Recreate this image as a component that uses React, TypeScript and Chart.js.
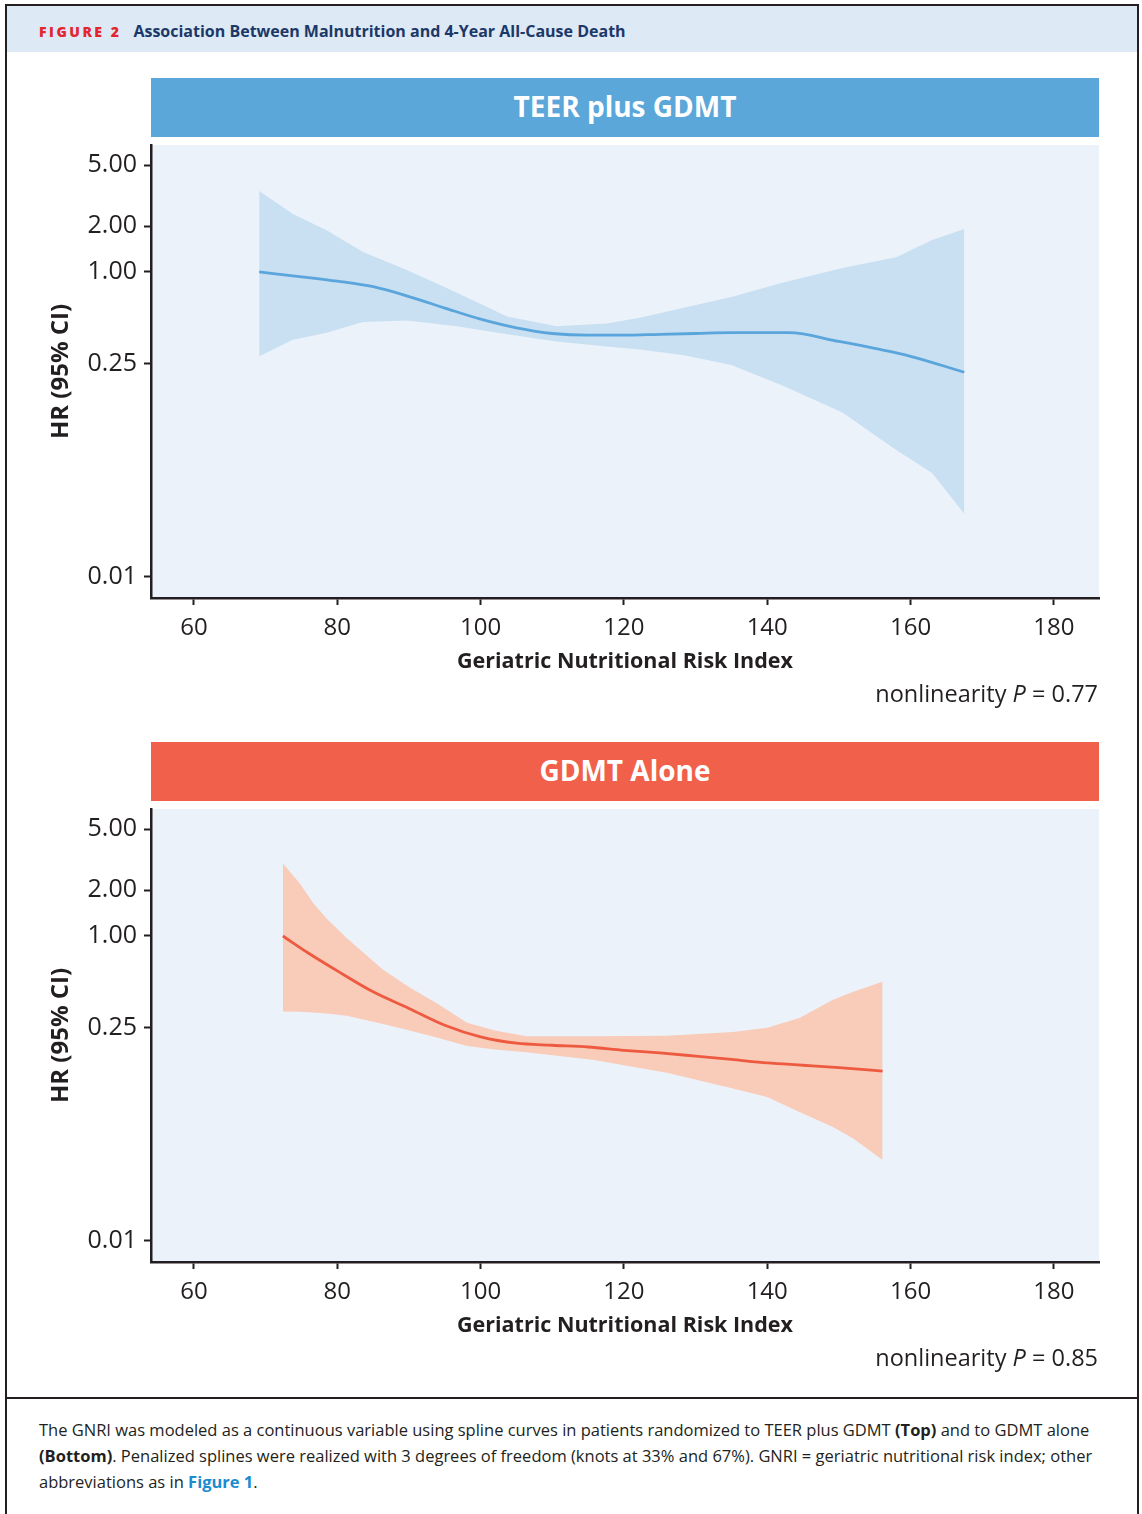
import React, { useEffect, useRef } from "react";
import { Chart, registerables } from "chart.js";
Chart.register(...registerables);

// ---------- data ----------
const xTicks = [60, 80, 100, 120, 140, 160, 180];
const yTicks = [0.01, 0.25, 1, 2, 5];

// TEER plus GDMT
const teerCiX = [69.1, 73.8, 78.5, 83.6, 89.7, 96.7, 103.7, 110.6, 117.6, 122.2, 128.2, 135, 142.1, 150.5, 158, 163, 167.5];
const teerUpper = [3.4, 2.4, 1.88, 1.35, 1.03, 0.73, 0.51, 0.44, 0.46, 0.5, 0.58, 0.685, 0.85, 1.06, 1.25, 1.62, 1.91];
const teerLower = [0.28, 0.36, 0.4, 0.47, 0.48, 0.44, 0.39, 0.35, 0.325, 0.31, 0.285, 0.245, 0.18, 0.12, 0.068, 0.048, 0.026];
const teerFitX = [69.1, 75, 80, 85, 90, 95, 100, 105, 110, 115, 120, 125, 130, 135, 140, 143, 150, 155, 160, 167.5];
const teerFit = [1.0, 0.93, 0.87, 0.8, 0.69, 0.58, 0.49, 0.43, 0.395, 0.385, 0.385, 0.39, 0.395, 0.4, 0.4, 0.4, 0.35, 0.315, 0.28, 0.22];

// GDMT alone
const gdmtCiX = [72.4, 74.8, 76.6, 78.5, 81.3, 86.4, 90.1, 94, 98.1, 102, 106.4, 115.6, 126, 135.2, 140, 144.5, 149.1, 152, 156.1];
const gdmtUpper = [3.0, 2.2, 1.65, 1.3, 0.97, 0.6, 0.46, 0.36, 0.27, 0.24, 0.22, 0.22, 0.222, 0.235, 0.25, 0.29, 0.38, 0.43, 0.5];
const gdmtLower = [0.32, 0.318, 0.315, 0.31, 0.3, 0.265, 0.24, 0.215, 0.19, 0.18, 0.173, 0.154, 0.127, 0.1, 0.088, 0.07, 0.056, 0.047, 0.034];
const gdmtFitX = [72.4, 76, 80, 85, 90, 95, 100, 105, 110, 115, 120, 125, 130, 135, 140, 145, 150, 156.1];
const gdmtFit = [1.0, 0.77, 0.59, 0.43, 0.335, 0.26, 0.218, 0.198, 0.192, 0.187, 0.178, 0.171, 0.163, 0.155, 0.147, 0.142, 0.137, 0.13];

const FONT = '"Open Sans", "Noto Sans", sans-serif';
const INK = "#231f20";

const pts = (xs: number[], ys: number[]) => xs.map((x, i) => ({ x, y: ys[i] }));

const bgPlugin = {
  id: "plotBg",
  beforeDraw(chart: any) {
    const { ctx, chartArea } = chart;
    if (!chartArea) return;
    ctx.save();
    ctx.fillStyle = "#ebf2fa";
    ctx.fillRect(chartArea.left, chartArea.top, chartArea.right - chartArea.left, chartArea.bottom - chartArea.top);
    ctx.restore();
  },
};

function Panel(props: {
  top: number;
  ciX: number[];
  upper: number[];
  lower: number[];
  fitX: number[];
  fit: number[];
  line: string;
  band: string;
}) {
  const ref = useRef<HTMLCanvasElement>(null);
  useEffect(() => {
    if (!ref.current) return;
    const chart = new Chart(ref.current, {
      type: "line",
      data: {
        datasets: [
          {
            data: pts(props.fitX, props.fit),
            borderColor: props.line,
            borderWidth: 2.8,
            pointRadius: 0,
            fill: false,
            tension: 0.4,
            cubicInterpolationMode: "monotone",
          },
          {
            data: pts(props.ciX, props.upper),
            borderWidth: 0,
            borderColor: "rgba(0,0,0,0)",
            backgroundColor: props.band,
            pointRadius: 0,
            fill: "+1",
            tension: 0,
          },
          {
            data: pts(props.ciX, props.lower),
            borderWidth: 0,
            borderColor: "rgba(0,0,0,0)",
            pointRadius: 0,
            fill: false,
            tension: 0,
          },
        ] as any,
      },
      options: {
        animation: false,
        responsive: false,
        devicePixelRatio: 1,
        layout: { padding: { left: 40, right: 43, top: 5, bottom: 0 } },
        plugins: { legend: { display: false }, tooltip: { enabled: false } },
        scales: {
          x: {
            type: "linear",
            min: 54,
            max: 186.3,
            afterBuildTicks: (s: any) => {
              s.ticks = xTicks.map((v) => ({ value: v }));
            },
            afterFit: (s: any) => {
              s.height = 122;
              s.paddingLeft = 0;
              s.paddingRight = 0;
            },
            border: { color: INK, width: 2.5 },
            grid: { drawOnChartArea: false, drawTicks: true, tickLength: 7, tickColor: INK, tickWidth: 2 },
            ticks: { color: INK, font: { family: FONT, size: 24 }, padding: 9, maxRotation: 0 },
            title: {
              display: true,
              text: "Geriatric Nutritional Risk Index",
              color: INK,
              font: { family: FONT, size: 21.5, weight: "bold" },
              padding: { top: 0, bottom: 45 },
            },
          },
          y: {
            type: "logarithmic",
            min: 0.00728,
            max: 6.8,
            afterBuildTicks: (s: any) => {
              s.ticks = yTicks.map((v) => ({ value: v }));
            },
            afterFit: (s: any) => {
              s.width = 111;
              s.paddingTop = 0;
              s.paddingBottom = 0;
            },
            border: { color: INK, width: 2.5 },
            grid: { drawOnChartArea: false, drawTicks: true, tickLength: 7, tickColor: INK, tickWidth: 2 },
            ticks: {
              color: INK,
              font: { family: FONT, size: 25 },
              padding: 7,
              callback: (v: any) => Number(v).toFixed(2),
            },
            title: {
              display: true,
              text: "HR (95% CI)",
              color: INK,
              font: { family: FONT, size: 24, weight: "bold" },
              padding: { top: 7, bottom: 0 },
            },
          },
        },
      } as any,
      plugins: [bgPlugin],
    });
    return () => chart.destroy();
  }, []);
  return (
    <canvas
      ref={ref}
      width={1142}
      height={580}
      style={{ position: "absolute", left: 0, top: props.top, width: 1142, height: 580 }}
    />
  );
}

function TitleBar(props: { top: number; color: string; text: string }) {
  return (
    <div
      style={{
        position: "absolute",
        left: 151,
        top: props.top,
        width: 948,
        height: 59,
        background: props.color,
        color: "#fff",
        fontFamily: FONT,
        fontWeight: 700,
        fontSize: 28,
        lineHeight: "57px",
        textAlign: "center",
      }}
    >
      {props.text}
    </div>
  );
}

function PValue(props: { top: number; value: string }) {
  return (
    <div
      style={{
        position: "absolute",
        left: 600,
        width: 498,
        top: props.top - 16,
        height: 30,
        lineHeight: "30px",
        textAlign: "right",
        fontFamily: FONT,
        fontSize: 23.5,
        color: INK,
        whiteSpace: "nowrap",
      }}
    >
      nonlinearity <i>P</i> = {props.value}
    </div>
  );
}

export default function App() {
  const capStyle: React.CSSProperties = {
    position: "absolute",
    left: 39,
    height: 26,
    lineHeight: "26px",
    fontFamily: FONT,
    fontSize: 16.5,
    color: "#231f20",
    whiteSpace: "nowrap",
  };
  return (
    <div style={{ position: "absolute", left: 0, top: 0, width: 1142, height: 1514, background: "#fff", overflow: "hidden" }}>
      <div
        style={{
          position: "absolute",
          left: 5,
          top: 4,
          width: 1130,
          height: 1530,
          borderLeft: `2px solid ${INK}`,
          borderRight: `2px solid ${INK}`,
          borderTop: `2px solid ${INK}`,
        }}
      />
      <div style={{ position: "absolute", left: 7, top: 6, width: 1130, height: 46, background: "#dde9f5" }} />
      <div
        style={{
          position: "absolute",
          left: 39,
          top: 18,
          height: 26,
          lineHeight: "26px",
          fontFamily: FONT,
          whiteSpace: "nowrap",
        }}
      >
        <span style={{ color: "#e3262e", fontWeight: 800, fontSize: 14, letterSpacing: 2.5 }}>FIGURE 2</span>
        <span style={{ color: "#1b3868", fontWeight: 700, fontSize: 16, marginLeft: 12 }}>
          Association Between Malnutrition and 4-Year All-Cause Death
        </span>
      </div>

      <TitleBar top={78} color="#5ba7da" text="TEER plus GDMT" />
      <Panel
        top={140}
        ciX={teerCiX}
        upper={teerUpper}
        lower={teerLower}
        fitX={teerFitX}
        fit={teerFit}
        line="#5aa5db"
        band="#c9dff2"
      />
      <PValue top={694} value="0.77" />

      <TitleBar top={742} color="#f0604a" text="GDMT Alone" />
      <Panel
        top={804}
        ciX={gdmtCiX}
        upper={gdmtUpper}
        lower={gdmtLower}
        fitX={gdmtFitX}
        fit={gdmtFit}
        line="#ee5a40"
        band="#f9cbb9"
      />
      <PValue top={1358} value="0.85" />

      <div style={{ position: "absolute", left: 7, top: 1397, width: 1130, height: 2, background: INK }} />
      <div style={{ ...capStyle, top: 1417 }}>
        The GNRI was modeled as a continuous variable using spline curves in patients randomized to TEER plus GDMT <b>(Top)</b> and to GDMT alone
      </div>
      <div style={{ ...capStyle, top: 1443 }}>
        <b>(Bottom)</b>. Penalized splines were realized with 3 degrees of freedom (knots at 33% and 67%). GNRI = geriatric nutritional risk index; other
      </div>
      <div style={{ ...capStyle, top: 1469 }}>
        abbreviations as in <b style={{ color: "#1a8ccf" }}>Figure 1</b>.
      </div>
    </div>
  );
}
